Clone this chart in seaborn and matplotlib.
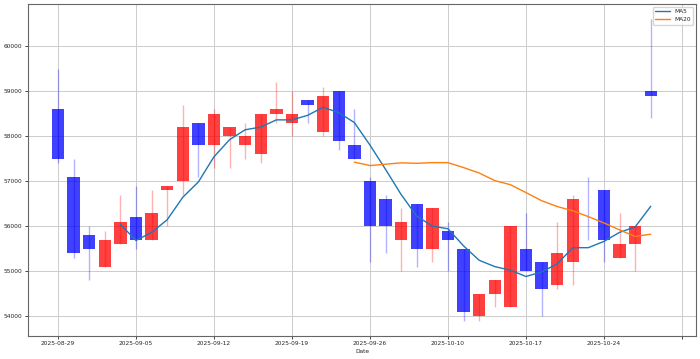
import numpy as np
import pandas as pd
import seaborn as sns
import matplotlib.pyplot as plt
from matplotlib.ticker import MultipleLocator

# trading days (KRX, Chuseok holidays skipped)
dates = ["2025-08-29", "2025-09-01", "2025-09-02", "2025-09-03", "2025-09-04",
         "2025-09-05", "2025-09-08", "2025-09-09", "2025-09-10", "2025-09-11",
         "2025-09-12", "2025-09-15", "2025-09-16", "2025-09-17", "2025-09-18",
         "2025-09-19", "2025-09-22", "2025-09-23", "2025-09-24", "2025-09-25",
         "2025-09-26", "2025-09-29", "2025-09-30", "2025-10-01", "2025-10-02",
         "2025-10-10", "2025-10-13", "2025-10-14", "2025-10-15", "2025-10-16",
         "2025-10-17", "2025-10-20", "2025-10-21", "2025-10-22", "2025-10-23",
         "2025-10-24", "2025-10-27", "2025-10-28", "2025-10-29"]

opens = [58600, 57100, 55800, 55100, 55600, 56200, 55700, 56800, 57000, 58300,
         57800, 58000, 57800, 57600, 58500, 58300, 58800, 58100, 59000, 57800,
         57000, 56600, 55700, 56500, 55500, 55900, 55500, 54000, 54500, 54200,
         55500, 55200, 54700, 55200, 56000, 56800, 55300, 55600, 59000]
highs = [59500, 57500, 56000, 55900, 56700, 56900, 56800, 56900, 58700, 58300,
         58600, 58200, 58300, 58500, 59200, 59000, 58800, 59100, 59000, 58600,
         57100, 56700, 56400, 56500, 56400, 56100, 55500, 54500, 54800, 56000,
         56300, 55200, 56100, 56700, 57100, 56800, 56300, 56000, 60600]
lows = [57400, 55300, 54800, 55100, 55600, 55500, 55700, 56000, 56700, 57100,
        57300, 57300, 57500, 57400, 58300, 58000, 58300, 58000, 57700, 57500,
        55200, 55400, 55000, 55100, 55200, 55000, 53900, 53900, 54200, 54200,
        55000, 54000, 54600, 54700, 55700, 55200, 55300, 55000, 58400]
closes = [57500, 55400, 55500, 55700, 56100, 55700, 56300, 56900, 58200, 57800,
          58500, 58200, 58000, 58500, 58600, 58500, 58700, 58900, 57900, 57500,
          56000, 56000, 56100, 55500, 56400, 55700, 54100, 54500, 54800, 56000,
          55000, 54600, 55400, 56600, 56000, 55700, 55600, 56000, 58900]

df = pd.DataFrame({"Date": dates, "Open": opens, "High": highs,
                   "Low": lows, "Close": closes})
df["idx"] = np.arange(len(df))
df["MA5"] = df["Close"].rolling(5).mean()
df["MA20"] = df["Close"].rolling(20).mean()

sns.set_style("whitegrid", rc={"axes.edgecolor": "0.4", "grid.color": "0.8",
                               "xtick.bottom": True, "ytick.left": True})
plt.rcParams["font.family"] = ["DejaVu Sans"]
plt.rcParams["font.size"] = 4.2

fig, ax = plt.subplots(figsize=(7, 3.59), dpi=100)
fig.subplots_adjust(left=0.0396, right=0.9947, top=0.9889, bottom=0.065)

colors = np.where(df["Close"] > df["Open"], "red", "blue")

# wicks then bodies
ax.vlines(df["idx"], df["Low"], df["High"], colors=colors, alpha=0.3, lw=1.0)
ax.bar(df["idx"], df["Close"] - df["Open"], bottom=df["Open"], width=0.8,
       color=colors, alpha=0.75, linewidth=0)

sns.lineplot(data=df, x="idx", y="MA5", label="MA5", color="#1f77b4", lw=1.0, ax=ax)
sns.lineplot(data=df, x="idx", y="MA20", label="MA20", color="#ff7f0e", lw=1.0, ax=ax)

tick_pos = list(range(0, len(df) + 2, 5))
tick_lbl = [dates[i] if i < len(dates) else "" for i in tick_pos]
ax.set_xticks(tick_pos)
ax.set_xticklabels(tick_lbl)
ax.yaxis.set_major_locator(MultipleLocator(1000))
ax.set_xlim(-1.94, 40.92)
ax.set_xlabel("Date", labelpad=2)
ax.set_ylabel("")
ax.tick_params(length=2, width=0.6, pad=2, labelsize=4.2)
for s in ax.spines.values():
    s.set_linewidth(0.8)
ax.grid(True, lw=0.7)
ax.legend(loc="upper right", fontsize=4.2, handlelength=2.5)

plt.savefig("out.png", dpi=100)
